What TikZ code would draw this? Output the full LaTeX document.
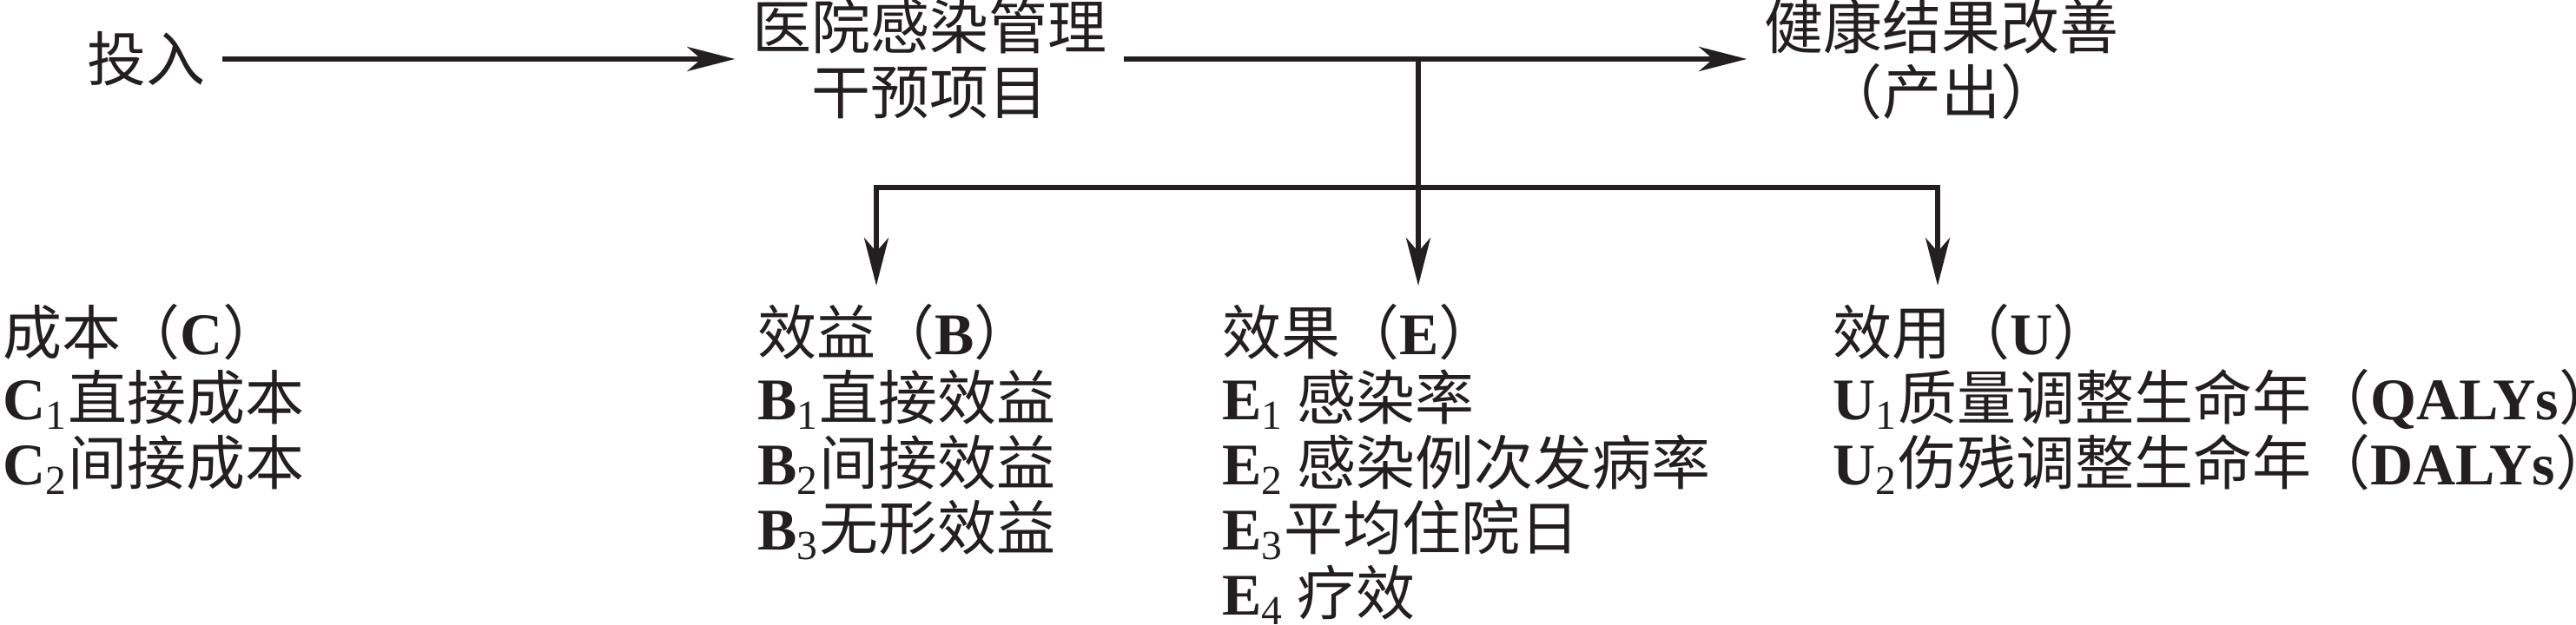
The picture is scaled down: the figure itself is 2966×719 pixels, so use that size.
\documentclass[tikz,border=0pt]{standalone}
\usepackage{fontspec}
\setmainfont{Noto Sans CJK SC}
\newfontfamily\serifen{Liberation Serif}
\newcommand\en[1]{{\serifen\bfseries #1}}
\newcommand\ensub[2]{\en{#1}{\serifen\textsubscript{#2}}}
\usetikzlibrary{arrows.meta}
\definecolor{ink}{RGB}{35,31,32}
\begin{document}
\begin{tikzpicture}[x=0.2pt, y=-0.2pt, line width=1.2pt, color=ink, font=\fontsize{13.6}{15}\selectfont,
  >={Stealth[length=11pt,width=5.6pt,inset=3.2pt]},
  col/.style={anchor=north west, align=left, inner sep=0pt}]
\def\yrow{68} \def\ybar{216} \def\ytop{347}
\def\xc{0} \def\xb{869} \def\xe{1404} \def\xu{2107}
\useasboundingbox (0,0) rectangle (2966,719);
\node[anchor=base] (in) at (168,94) {投入};
\node[anchor=north, align=center] (prog) at (1070,-21) {医院感染管理\\干预项目};
\node[anchor=north, align=center] (health) at (2235,-21) {健康结果改善\\（产出）};
\node[col] (cost) at (\xc,\ytop) {成本（\en{C}）\\\ensub{C}{1}直接成本\\\ensub{C}{2}间接成本};
\node[col] (ben) at (\xb,\ytop) {效益（\en{B}）\\\ensub{B}{1}直接效益\\\ensub{B}{2}间接效益\\\ensub{B}{3}无形效益};
\node[col] (eff) at (\xe,\ytop) {效果（\en{E}）\\\ensub{E}{1} 感染率\\\ensub{E}{2} 感染例次发病率\\\ensub{E}{3}平均住院日\\\ensub{E}{4} 疗效};
\node[col] (uti) at (\xu,\ytop) {效用（\en{U}）\\\ensub{U}{1}质量调整生命年（\en{QALYs}）\\\ensub{U}{2}伤残调整生命年（\en{DALYs}）};
\coordinate (fork) at (1633,\yrow);
\coordinate (barl) at (1009,\ybar);
\coordinate (barr) at (2231,\ybar);
\draw[->] (in.east |- fork) -- (fork -| prog.west);
\draw[->] (prog.east |- fork) -- (fork -| health.west);
\draw[->, shorten >=3.6pt] (fork) -- (fork |- eff.north);
\draw[<->, shorten <=3.6pt, shorten >=3.6pt] (barl |- ben.north) -- (barl) -- (barr) -- (barr |- uti.north);
\end{tikzpicture}
\end{document}
